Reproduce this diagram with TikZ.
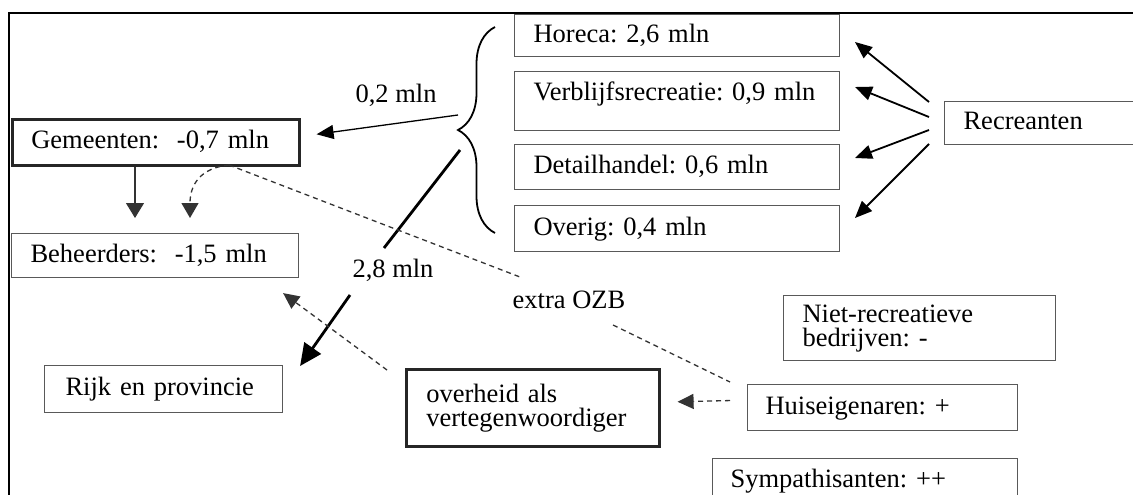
\documentclass[tikz,border=0pt]{standalone}
\usepackage{fontspec}
\setmainfont{Liberation Serif}
\usetikzlibrary{arrows.meta,decorations.pathreplacing,calc}
\frenchspacing
\begin{document}
\frenchspacing
\begin{tikzpicture}[x=1pt,y=-1pt,
  every node/.style={font=\fontsize{26.5}{24}\selectfont},
  box/.style={draw=black!65, line width=1.1pt, anchor=north west, align=left,
    inner xsep=19pt, inner ysep=0pt, text height=18pt, text depth=5pt},
  mbox/.style={draw=black!65, line width=1.1pt, anchor=north west, align=left,
    inner xsep=19pt, inner ysep=0pt},
  heavy/.style={draw=black!85, line width=2.6pt},
  lbl/.style={inner sep=2pt},
  arr/.style={line width=1.8pt, -{Triangle[length=17pt,width=14pt]}},
  thinarr/.style={line width=1.1pt, black!80, -{Triangle[length=15pt,width=18pt]}},
  bigarr/.style={line width=2.8pt, -{Triangle[length=22pt,width=20pt]}},
  dsh/.style={line width=1.3pt, black!80, dash pattern=on 5pt off 4pt},
  dsharr/.style={dsh, -{Triangle[length=16pt,width=15pt]}}
]
\useasboundingbox (0,0) rectangle (1133,495);
\clip (0,0) rectangle (1133,495);
% frame
\draw[line width=2.5pt] (1140,13) -- (9,13) -- (9,500);

% right column boxes
\node[box, text width=287pt, minimum height=42pt] (hor) at (514,14) {Horeca: 2,6 mln};
\node[box, text width=287pt, minimum height=59pt, text depth=20pt] (ver) at (514,71) {Verblijfsrecreatie: 0,9 mln};
\node[box, text width=287pt, minimum height=45pt] (det) at (514,144) {Detailhandel: 0,6 mln};
\node[box, text width=287pt, minimum height=46pt] (ove) at (514,205) {Overig: 0,4 mln};
\node[box, text width=182pt, minimum height=43pt] (rec) at (944,101) {Recreanten};

% left boxes
\node[box, heavy, text width=249pt, minimum height=46pt] (gem) at (11,118) {Gemeenten:~~-0,7 mln};
\node[box, text width=249pt, minimum height=44pt] (beh) at (11,233) {Beheerders:~~-1,5 mln};
\node[box, minimum height=47pt, inner xsep=21pt, text width=196pt] (rijk) at (44,365) {Rijk en provincie};
\node[mbox, heavy, text width=213pt, minimum height=77pt, inner xsep=20pt] (ovh) at (405,368) {overheid als\\vertegenwoordiger};
\node[mbox, text width=234pt, minimum height=65pt] (niet) at (783,295) {Niet-recreatieve\\bedrijven: -};
\node[box, minimum height=46pt, inner xsep=18pt, text width=234pt] (huis) at (747,384) {Huiseigenaren: +};
\node[box, text width=269pt, minimum height=44pt, inner xsep=18pt] (symp) at (712,458) {Sympathisanten: ++};

% labels
\node[lbl] (l02) at (396,95) {0,2 mln};
\node[lbl] (l28) at (393,270) {2,8 mln};
\node[lbl] (ozb) at (569,300) {extra OZB};

% brace
\draw[line width=1.8pt, decorate, decoration={brace, amplitude=37pt}] (495,233) -- (495,27);

% coordinates
\coordinate (b02) at (458,115);
\coordinate (b28) at (460,150);
\coordinate (m1) at (384,248);
\coordinate (m2) at (350,295);
\coordinate (gc) at (229,165);
\coordinate (o1) at (520,277);
\coordinate (o2) at (613,325);
\coordinate (r1) at (929,102);
\coordinate (r2) at (929,117);
\coordinate (r3) at (929,130);
\coordinate (r4) at (929,144);
\coordinate (t1) at (855,42);
\coordinate (t2) at (855,87);
\coordinate (t3) at (855,158);
\coordinate (t4) at (855,218);

% recreanten arrows
\draw[arr] (r1) -- (t1);
\draw[arr] (r2) -- (t2);
\draw[arr] (r3) -- (t3);
\draw[arr] (r4) -- (t4);

% 0,2 mln arrow
\draw[arr, line width=1.3pt] (b02) -- ($(gem.east)+(16,-8)$);
% 2,8 mln arrow
\draw[line width=2.8pt] (b28) -- (m1);
\draw[bigarr] (m2) -- ($(rijk.north east)+(17,1)$);

% gemeenten -> beheerders
\draw[thinarr, shorten >=15pt] ($(gem.south west)+(124,0)$) -- ($(beh.north west)+(124,0)$);
\draw[dsharr, -{Triangle[length=15pt,width=17pt]}] (gc) .. controls (200,168) and (190,185) .. ($(beh.north west)+(179,-15)$);

% extra OZB dashed line
\draw[dsh] (gc) -- (o1);
\draw[dsh] (o2) -- ($(huis.north west)+(-17,-2)$);

% overheid -> beheerders
\draw[dsharr] ($(ovh.north west)+(-18,2)$) -- ($(beh.south east)+(-16,15)$);
% huiseigenaren -> overheid
\draw[dsharr] ($(huis.west)+(-17,-7)$) -- ($(ovh.east)+(17,-6)$);
\end{tikzpicture}
\end{document}
